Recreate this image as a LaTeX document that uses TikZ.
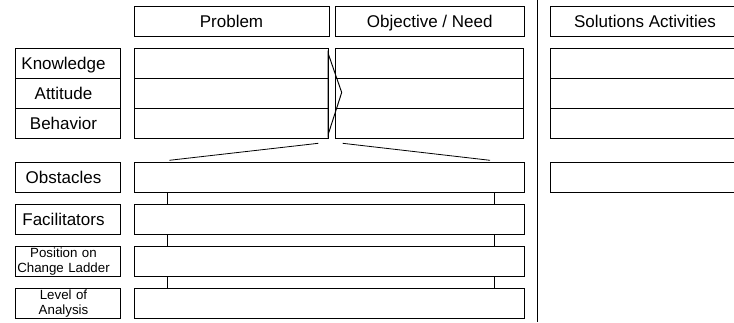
\documentclass[tikz,border=0pt]{standalone}
\usepackage{fontspec}
\setmainfont{Liberation Sans}
\usetikzlibrary{positioning}
\begin{document}
\begin{tikzpicture}[
		x=0.5pt, y=-0.5pt,
		node distance=0pt,
		line width=0.48pt,
		cell/.style={draw, inner sep=0pt, outer sep=0pt, minimum height=15pt, text height=6.1pt, text depth=0pt, font=\fontsize{8.5}{10}\selectfont},
		lab/.style={cell, minimum width=52.5pt, text width=52.5pt, align=center, execute at begin node={\leftskip=0pt plus 1fil\rightskip=4pt plus 1fil}},
		small/.style={lab, text height=, text depth=, font=\fontsize{6.65}{7.5}\selectfont},
	]
		\useasboundingbox (0,0) rectangle (734,322);
		\node[cell, anchor=north west, minimum width=97.5pt] (prob) at (134,6) {Problem};
		\node[cell, right=3.25pt of prob, minimum width=94.25pt] (obj) {Objective / Need};
		\node[cell, right=13.25pt of obj, minimum width=94.5pt] (sol) {Solutions Activities};

		\node[lab, anchor=north west] (know) at (15,48.5) {Knowledge};
		\node[lab, below=of know] (att) {Attitude};
		\node[lab, below=of att] (beh) {Behavior};
		\node[cell, right=7pt of know, minimum width=97pt] (pk) {};
		\node[cell, right=7pt of att, minimum width=97pt] (pa) {};
		\node[cell, right=7pt of beh, minimum width=97pt] (pb) {};
		\node[cell, right=3.5pt of pk, minimum width=94.25pt] (ok) {};
		\node[cell, right=3.5pt of pa, minimum width=94.25pt] (oa) {};
		\node[cell, right=3.5pt of pb, minimum width=94.25pt] (ob) {};
		\node[cell, right=13.25pt of ok, minimum width=94.5pt] (sk) {};
		\node[cell, right=13.25pt of oa, minimum width=94.5pt] (sa) {};
		\node[cell, right=13.25pt of ob, minimum width=94.5pt] (sb) {};

		\draw (328,53) -- (341.7,92.5) -- (328,135) -- cycle;
		\draw[line width=0.4pt] (318.3,143.3) -- (169.3,160.3);
		\draw[line width=0.4pt] (342.7,143.3) -- (490,160.3);

		\node[lab, anchor=north west] (obsl) at (15,162.5) {Obstacles};
		\node[cell, right=7pt of obsl, minimum width=195pt] (obs) {};
		\node[cell, right=13.25pt of obs, minimum width=94.5pt] (sobs) {};
		\node[lab, below=6pt of obsl] (facl) {Facilitators};
		\node[cell, right=7pt of facl, minimum width=195pt] (fac) {};
		\node[small, below=6pt of facl] (posl) {Position on\\Change Ladder};
		\node[cell, right=7pt of posl, minimum width=195pt] (pos) {};
		\node[small, below=6pt of posl] (levl) {Level of\\Analysis};
		\node[cell, right=7pt of levl, minimum width=195pt] (lev) {};

		\foreach \a/\b in {obs/fac, fac/pos, pos/lev} {
			\draw ([xshift=16.5pt]\a.south west) -- ([xshift=16.5pt]\b.north west);
			\draw ([xshift=-15pt]\a.south east) -- ([xshift=-15pt]\b.north east);
		}

		\coordinate (septop) at (537.5,0);
		\coordinate (sepbot) at (537.5,322);
		\draw (septop) -- (sepbot);
	\end{tikzpicture}
\end{document}
